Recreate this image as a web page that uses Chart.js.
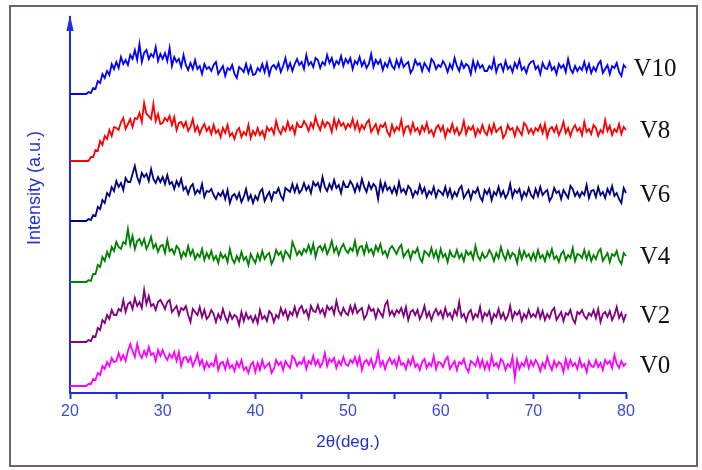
<!DOCTYPE html>
<html>
<head>
<meta charset="utf-8">
<title>XRD patterns V0-V10</title>
<script src="https://cdn.jsdelivr.net/npm/chart.js@4.4.1/dist/chart.umd.min.js"></script>
<style>
  html, body { margin: 0; padding: 0; background: #fff; }
  #wrap { width: 702px; height: 470px; }
</style>
</head>
<body>
<div id="wrap"><canvas id="chart" width="702" height="470"></canvas></div>
<script>
/* XRD patterns, stacked traces V0..V10
   values (a.u., offset already included)
*/
const twoTheta = [
  20,20.25,20.5,20.75,21,21.25,21.5,21.75,22,22.25,22.5,22.75,23,23.25,23.5,23.75,24,24.25,24.5,24.75,
  25,25.25,25.5,25.75,26,26.25,26.5,26.75,27,27.25,27.5,27.75,28,28.25,28.5,28.75,29,29.25,29.5,29.75,
  30,30.25,30.5,30.75,31,31.25,31.5,31.75,32,32.25,32.5,32.75,33,33.25,33.5,33.75,34,34.25,34.5,34.75,
  35,35.25,35.5,35.75,36,36.25,36.5,36.75,37,37.25,37.5,37.75,38,38.25,38.5,38.75,39,39.25,39.5,39.75,
  40,40.25,40.5,40.75,41,41.25,41.5,41.75,42,42.25,42.5,42.75,43,43.25,43.5,43.75,44,44.25,44.5,44.75,
  45,45.25,45.5,45.75,46,46.25,46.5,46.75,47,47.25,47.5,47.75,48,48.25,48.5,48.75,49,49.25,49.5,49.75,
  50,50.25,50.5,50.75,51,51.25,51.5,51.75,52,52.25,52.5,52.75,53,53.25,53.5,53.75,54,54.25,54.5,54.75,
  55,55.25,55.5,55.75,56,56.25,56.5,56.75,57,57.25,57.5,57.75,58,58.25,58.5,58.75,59,59.25,59.5,59.75,
  60,60.25,60.5,60.75,61,61.25,61.5,61.75,62,62.25,62.5,62.75,63,63.25,63.5,63.75,64,64.25,64.5,64.75,
  65,65.25,65.5,65.75,66,66.25,66.5,66.75,67,67.25,67.5,67.75,68,68.25,68.5,68.75,69,69.25,69.5,69.75,
  70,70.25,70.5,70.75,71,71.25,71.5,71.75,72,72.25,72.5,72.75,73,73.25,73.5,73.75,74,74.25,74.5,74.75,
  75,75.25,75.5,75.75,76,76.25,76.5,76.75,77,77.25,77.5,77.75,78,78.25,78.5,78.75,79,79.25,79.5,79.75,
  80,80.25,80.5,80.75
];

const v10 = [
  299,299,299,299,299,299,299,299,301,300,305,304,312,310,319,315,322,318,329,324,
  331,325,336,329,333,328,338,334,343,333,349,331,340,343,334,339,336,346,332,339,
  334,340,332,345,327,336,331,334,326,338,328,323,330,324,333,324,327,319,329,324,
  326,322,328,331,319,323,327,317,325,323,328,319,315,326,324,321,329,320,327,318,
  319,325,322,329,321,330,318,326,328,324,330,321,327,335,324,330,322,329,334,328,
  331,324,338,328,331,326,335,333,325,331,328,338,330,335,326,332,329,337,327,334,
  330,335,324,332,329,336,327,332,325,329,339,326,333,329,333,323,330,326,334,327,
  324,333,326,334,326,329,331,320,324,333,328,330,322,330,326,322,334,331,324,328,
  326,332,328,321,329,324,335,327,322,331,325,329,327,319,332,323,331,325,328,322,
  322,327,324,334,321,328,329,322,332,324,327,321,330,325,333,323,326,320,328,331,
  332,324,327,319,330,325,324,331,323,326,319,329,325,328,321,334,324,320,327,322,
  326,323,331,322,329,320,326,322,329,332,320,324,328,319,327,325,330,321,317,328,
  325
];

const v8 = [
  232,232,232,232,232,232,232,232,232,236,236,243,242,252,248,257,254,263,257,266,
  265,263,271,275,264,269,274,266,275,274,280,271,290,279,277,274,289,272,279,269,
  270,275,272,277,268,276,263,270,271,266,271,262,266,274,262,267,259,265,269,262,
  266,259,268,260,263,256,265,260,268,257,260,254,262,265,256,261,258,268,255,262,
  258,265,258,262,255,266,262,265,259,272,263,259,266,262,271,263,267,259,270,266,
  266,272,268,262,270,265,276,268,263,272,266,271,269,261,274,265,273,267,270,264,
  269,266,274,264,271,262,268,264,270,273,261,265,269,260,268,266,270,261,257,268,
  261,266,263,273,259,266,267,260,270,262,265,259,267,262,270,260,263,257,265,268,
  262,267,256,264,261,269,260,265,258,262,272,259,266,263,267,257,264,260,268,261,
  258,267,260,269,261,264,266,255,259,268,263,265,257,266,262,258,270,267,260,264,
  259,265,262,268,260,269,256,264,266,261,267,258,263,271,260,265,257,264,268,262,
  265,258,271,261,264,259,268,265,257,263,260,273,262,267,258,264,261,269,259,266,
  263
];

const v6 = [
  172,172,172,172,172,172,172,172,174,173,178,177,186,184,193,190,200,197,206,202,
  212,206,210,203,215,211,211,219,227,216,210,220,216,219,212,224,214,210,216,211,
  216,209,218,209,211,204,212,207,214,203,206,199,206,209,199,203,200,209,196,202,
  201,204,198,194,200,197,202,194,203,190,197,199,194,200,191,196,204,193,198,190,
  197,193,201,204,192,197,201,193,201,200,205,197,193,205,203,201,209,201,208,200,
  203,210,203,207,200,211,207,210,203,216,206,202,209,204,213,205,208,200,211,206,
  206,212,208,201,209,203,214,206,201,210,204,209,206,194,211,202,210,203,206,200,
  206,199,211,201,204,199,207,204,196,202,199,208,200,205,196,202,199,206,196,203,
  201,198,206,197,204,195,201,197,204,207,195,199,203,194,202,200,205,196,192,203,
  199,204,193,201,198,206,197,202,195,199,209,196,203,200,204,194,201,197,205,198,
  195,204,197,206,198,201,203,192,196,205,200,202,194,203,199,195,207,204,197,201,
  196,201,198,208,195,202,203,196,206,198,201,195,204,199,207,197,200,194,190,205,
  200
];

const v4 = [
  111,111,111,111,111,111,111,111,113,112,119,119,128,126,136,132,141,136,146,142,
  151,146,144,151,149,164,148,157,144,152,154,148,154,144,149,156,145,149,141,147,
  148,140,153,142,144,139,147,144,135,141,137,147,138,143,134,139,136,144,133,140,
  135,142,133,137,130,140,135,138,131,144,134,130,137,132,141,133,136,128,139,134,
  130,139,133,142,134,138,140,129,134,143,138,141,133,142,139,135,151,145,138,142,
  138,144,141,148,140,149,136,145,147,142,148,139,144,152,141,146,138,145,149,143,
  140,145,142,152,139,146,147,139,149,141,144,138,147,142,149,139,142,136,144,147,
  143,139,145,148,136,140,143,134,142,140,145,135,131,142,140,137,145,136,142,133,
  144,136,139,131,142,137,136,143,135,139,132,142,138,141,134,147,137,133,140,135,
  137,143,139,132,140,135,146,138,133,142,135,140,138,130,143,134,142,136,139,133,
  140,133,143,135,138,132,141,136,144,134,137,131,139,142,133,138,135,145,132,139,
  138,135,143,134,141,132,138,134,141,144,132,136,140,131,139,137,142,133,129,140,
  137
];

const v2 = [
  51,51,51,51,51,51,51,51,53,52,57,56,65,63,73,70,78,74,83,78,
  78,84,82,93,81,89,91,84,95,87,91,85,103,89,97,87,89,83,91,93,
  89,84,91,93,81,84,87,78,85,83,87,78,71,84,81,78,86,76,83,74,
  77,83,79,71,79,74,84,76,71,80,74,78,76,68,81,72,80,74,77,71,
  77,70,83,74,77,72,82,79,71,78,75,85,78,83,74,81,78,86,77,84,
  87,80,83,75,87,82,81,88,80,84,77,87,83,86,79,92,82,78,85,80,
  78,87,80,88,80,83,85,74,78,87,82,84,75,84,80,76,88,92,78,82,
  77,83,80,85,77,86,73,81,83,78,83,74,79,87,76,81,73,80,84,78,
  82,75,85,77,80,74,83,78,91,76,79,72,80,83,74,79,76,86,73,80,
  77,82,71,79,76,84,75,80,73,77,87,74,81,78,82,72,79,75,83,76,
  79,76,84,75,82,73,79,75,82,85,73,77,81,72,80,78,83,74,70,81,
  79,83,77,74,80,77,83,75,84,71,79,81,76,82,73,78,86,75,80,72,
  79,84,76,81
];

const v0 = [
  7,7,7,7,7,7,7,7,9,9,14,13,20,18,27,24,31,27,35,31,
  32,40,33,38,32,42,49,42,36,49,39,35,42,37,46,38,40,32,43,37,
  43,37,33,39,35,41,32,41,27,35,36,31,36,27,32,39,28,33,24,31,
  26,30,27,37,23,30,31,24,33,25,28,22,31,26,33,23,26,20,28,31,
  21,30,23,33,25,28,30,20,24,33,28,31,23,32,28,25,37,34,27,31,
  29,35,24,32,29,37,28,33,26,30,40,27,34,31,35,25,32,28,36,29,
  27,33,30,36,28,36,23,31,33,28,34,25,30,41,27,32,24,31,35,29,
  33,26,36,28,30,24,33,28,36,26,29,23,31,34,25,30,27,37,24,31,
  30,26,33,36,24,28,32,23,31,29,34,25,21,32,30,27,35,26,33,24,
  31,24,37,27,30,25,34,31,23,29,26,36,15,33,24,30,27,35,25,32,
  27,33,29,22,30,25,36,28,23,32,26,31,29,21,34,25,33,27,30,24,
  34,26,29,21,32,27,26,33,26,30,23,33,29,32,25,38,29,25,32,27,
  30
];

const seriesNames = ['V0', 'V2', 'V4', 'V6', 'V8', 'V10'];
const seriesValues = [v0, v2, v4, v6, v8, v10];
const COLORS = ['#ff00ff', '#800080', '#008000', '#000080', '#ff0000', '#0000ff'];

const AXIS_BLUE = '#1e2ee6';
const TICK_BLUE = '#3c4bd4';
const TITLE_BLUE = '#2230d8';

function toPoints(vals){
  return vals.map((y, i) => ({x: twoTheta[i], y}));
}

function tailMean(vals){
  const tail = vals.slice(-41);
  return tail.reduce((a, b) => a + b, 0) / tail.length;
}

// frame, y axis arrow + title and the V labels
const decorPlugin = {
  id: 'decor',
  beforeDraw(chart){
    const ctx = chart.ctx;
    ctx.save();
    ctx.fillStyle = '#fff';
    ctx.fillRect(0, 0, chart.width, chart.height);
    ctx.restore();
  },
  afterDraw(chart){
    const ctx = chart.ctx;
    const {left, top} = chart.chartArea;
    const xs = chart.scales.x, ys = chart.scales.y;
    ctx.save();
    // arrow on top of the intensity axis
    ctx.strokeStyle = AXIS_BLUE;
    ctx.lineWidth = 2;
    ctx.beginPath();
    ctx.moveTo(left, top);
    ctx.lineTo(left, top - 4);
    ctx.stroke();
    ctx.fillStyle = AXIS_BLUE;
    ctx.beginPath();
    ctx.moveTo(left, top - 5);
    ctx.lineTo(left + 3.6, top + 11);
    ctx.lineTo(left - 3.6, top + 11);
    ctx.closePath();
    ctx.fill();

    // y axis title (sits a bit above the middle of the axis)
    ctx.save();
    ctx.translate(35, 188);
    ctx.rotate(-Math.PI / 2);
    ctx.fillStyle = TITLE_BLUE;
    ctx.font = '18px Arial, "Liberation Sans", sans-serif';
    ctx.textAlign = 'center';
    ctx.textBaseline = 'middle';
    ctx.fillText('Intensity (a.u.)', 0, 0);
    ctx.restore();

    // labels at the right end of each trace
    ctx.fillStyle = '#111';
    ctx.font = '25px "Liberation Serif", "Times New Roman", serif';
    ctx.textAlign = 'center';
    ctx.textBaseline = 'middle';
    const xLab = xs.getPixelForValue(80) + 29;
    seriesValues.forEach((vals, i) => {
      ctx.fillText(seriesNames[i], xLab, ys.getPixelForValue(tailMean(vals)) + 2);
    });

    // outer frame
    ctx.strokeStyle = '#6e6262';
    ctx.lineWidth = 2;
    ctx.strokeRect(10, 6, 687, 460);
    ctx.restore();
  }
};

const datasets = seriesValues.map((vals, i) => ({
  label: seriesNames[i],
  data: toPoints(vals),
  borderColor: COLORS[i],
  borderWidth: 1.8,
  borderJoinStyle: 'miter',
  pointRadius: 0,
  tension: 0,
  fill: false,
  clip: false
}));

const ctx = document.getElementById('chart').getContext('2d');
const chart = new Chart(ctx, {
  type: 'line',
  data: { datasets },
  options: {
    responsive: false,
    animation: false,
    events: [],
    layout: { padding: { top: 20, right: 76, left: 0, bottom: 0 } },
    plugins: {
      legend: { display: false },
      tooltip: { enabled: false }
    },
    scales: {
      x: {
        type: 'linear',
        min: 20,
        max: 80,
        ticks: {
          stepSize: 5,
          autoSkip: false,
          maxRotation: 0,
          padding: 3,
          color: TICK_BLUE,
          font: { family: 'Arial, "Liberation Sans", sans-serif', size: 16 },
          callback: v => (v % 10 === 0 ? v : '')
        },
        grid: {
          drawOnChartArea: false,
          tickLength: 6,
          tickWidth: 2,
          color: AXIS_BLUE
        },
        border: { display: true, color: AXIS_BLUE, width: 2 },
        title: {
          display: true,
          text: '2θ(deg.)',
          color: TITLE_BLUE,
          font: { family: 'Arial, "Liberation Sans", sans-serif', size: 17 },
          padding: { top: 0, bottom: 17 }
        },
        afterFit(scale){ scale.height = 77; }
      },
      y: {
        min: 0,
        max: 373,
        ticks: { display: false },
        grid: { display: false },
        border: { display: true, color: AXIS_BLUE, width: 2 },
        title: { display: false },
        afterFit(scale){ scale.width = 70; }
      }
    }
  },
  plugins: [decorPlugin]
});
</script>
</body>
</html>
